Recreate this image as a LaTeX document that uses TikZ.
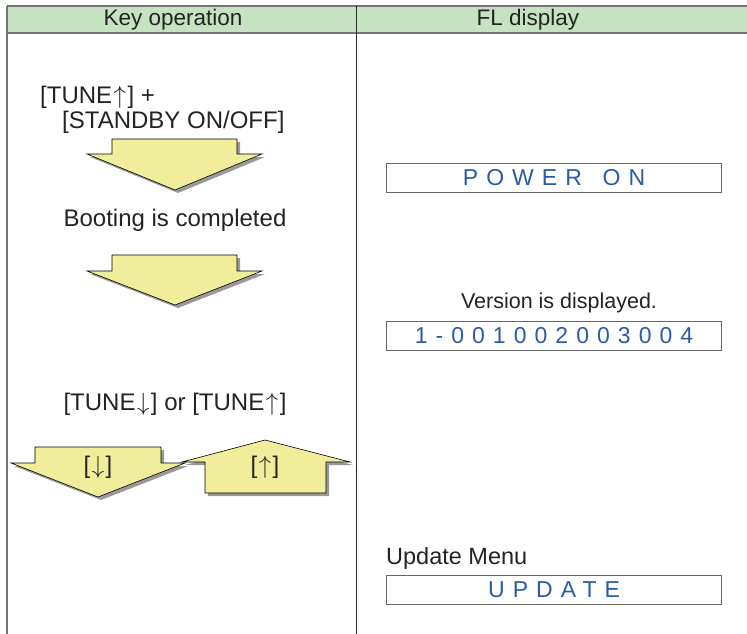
\documentclass[tikz,border=0pt]{standalone}
\usepackage{fontspec}
\setmainfont{Liberation Sans}
\newfontfamily\lcdfont[LetterSpace=35]{Liberation Sans}
\usetikzlibrary{positioning}

\definecolor{headgreen}{RGB}{198,227,193}
\definecolor{arrowyellow}{RGB}{240,237,155}
\definecolor{lcdblue}{RGB}{40,92,170}
\definecolor{textgray}{RGB}{35,35,35}

\newcommand{\uparr}{\kern1.5pt\ensuremath{\uparrow}\kern1.5pt}
\newcommand{\downarr}{\kern1.5pt\ensuremath{\downarrow}\kern1.5pt}

\begin{document}
\begin{tikzpicture}[
    x=1pt, y=-1pt,
    grid/.style={draw=black!55, line width=1.2pt},
    divider/.style={draw=black!85, line width=0.8pt},
    head/.style={font=\fontsize{22.5}{26}\selectfont, text=textgray},
    label/.style={font=\fontsize{24}{28}\selectfont, text=textgray, inner sep=0pt},
    lcdbox/.style={draw=black!60, line width=1.1pt, minimum width=335pt, minimum height=29pt, inner sep=0pt,
                   font=\fontsize{23}{26}\lcdfont, text=lcdblue},
    blockarrow/.style={fill=arrowyellow, draw=black, line width=0.6pt},
    blockshadow/.style={fill=black!40, shift={(3,3)}},
]
\useasboundingbox (0,0) rectangle (747,634);

%% TABLE
    % header row
    \fill[headgreen] (7,6) rectangle (747,33);
    \draw[grid] (7,6) -- (747,6);
    \draw[grid] (7,33) -- (747,33);
    \draw[grid] (7,6) -- (7,634);
    \draw[divider] (356,6) -- (356,634);
    \node[head] (keyhead) at (173,20) {Key operation};
    \node[head] (flhead) at (528,20) {FL display};

%% KEY OPERATION
    \node[label, anchor=base west] (tuneplus) at (40,103) {[TUNE\uparr] +};
    \node[label, anchor=base west] (standby) at (62,128) {[STANDBY ON/OFF]};

    % first arrow
    \fill[blockshadow] (112,139) -- (237,139) -- (237,154) -- (262,154) -- (175,190) -- (87,154) -- (112,154) -- cycle;
    \draw[blockarrow] (112,139) -- (237,139) -- (237,154) -- (262,154) -- (175,190) -- (87,154) -- (112,154) -- cycle;

    \node[label] (booting) at (175,220) {Booting is completed};

    % second arrow
    \fill[blockshadow] (112,255) -- (237,255) -- (237,271) -- (262,271) -- (175,305) -- (87,271) -- (112,271) -- cycle;
    \draw[blockarrow] (112,255) -- (237,255) -- (237,271) -- (262,271) -- (175,305) -- (87,271) -- (112,271) -- cycle;

    \node[label] (tuneor) at (175,404) {[TUNE\downarr] or [TUNE\uparr]};

    % down / up arrows
    \fill[blockshadow] (35,447) -- (161,447) -- (161,463) -- (185,463) -- (98,497) -- (11,463) -- (35,463) -- cycle;
    \draw[blockarrow] (35,447) -- (161,447) -- (161,463) -- (185,463) -- (98,497) -- (11,463) -- (35,463) -- cycle;
    \node[label] (downkey) at (98,467) {[\downarr]};

    \fill[blockshadow] (265,440) -- (350,462) -- (326,462) -- (326,493) -- (205,493) -- (205,462) -- (182,462) -- cycle;
    \draw[blockarrow] (265,440) -- (350,462) -- (326,462) -- (326,493) -- (205,493) -- (205,462) -- (182,462) -- cycle;
    \node[label] (upkey) at (265,467) {[\uparr]};

%% FL DISPLAY
    \node[lcdbox, anchor=north west] (poweron) at (386,163) {POWER\hspace{0.9em}ON};

    \node[label, font=\fontsize{21.5}{26}\selectfont, anchor=south] (version) at (559,313) {Version is displayed.};
    \node[lcdbox, anchor=north west] (verbox) at (386,321) {1-001002003004};

    \node[label, font=\fontsize{23.5}{28}\selectfont, anchor=base west] (updmenu) at (386,564) {Update Menu};
    \node[lcdbox, anchor=north west] (update) at (386,575) {UPDATE};

\end{tikzpicture}
\end{document}
